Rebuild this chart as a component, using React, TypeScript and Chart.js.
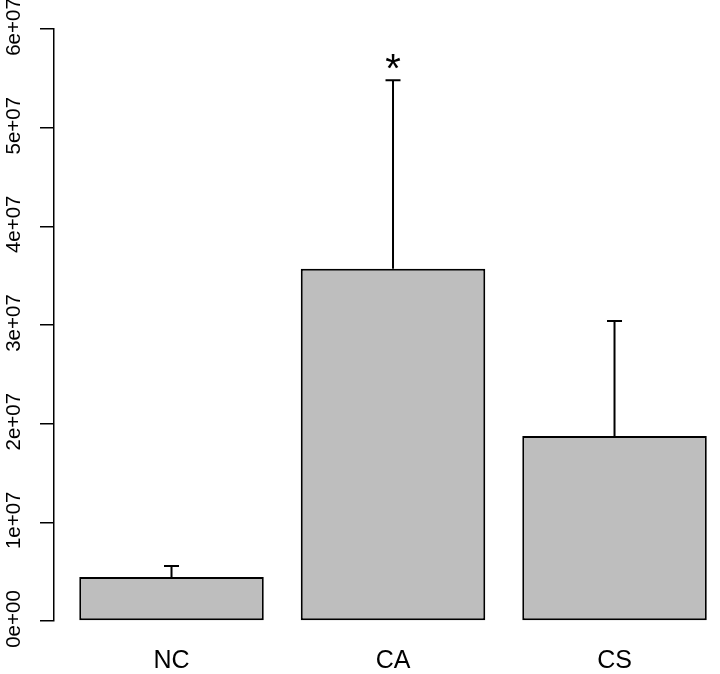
import React, { useEffect, useRef } from "react";
import { Chart, registerables } from "chart.js";

Chart.register(...registerables);

const categories = ["NC", "CA", "CS"];
const means = [4.46e6, 3.57e7, 1.876e7];
const upperErrors = [5.58e6, 5.48e7, 3.04e7];
const significance = ["", "*", ""];
const yTickValues = [0, 1e7, 2e7, 3e7, 4e7, 5e7, 6e7];
const yTickLabels = ["0e+00", "1e+07", "2e+07", "3e+07", "4e+07", "5e+07", "6e+07"];

const FONT = "'Liberation Sans', Arial, sans-serif";

const overlayPlugin = {
  id: "overlay",
  afterDatasetsDraw(chart: any) {
    const { ctx } = chart;
    const x = chart.scales.x;
    const y = chart.scales.y;
    ctx.save();
    ctx.strokeStyle = "#000";
    ctx.fillStyle = "#000";
    ctx.lineWidth = 2;
    categories.forEach((_, i) => {
      const px = x.getPixelForValue(i + 1);
      const top = y.getPixelForValue(means[i]);
      const up = y.getPixelForValue(upperErrors[i]);
      ctx.beginPath();
      ctx.moveTo(px, top);
      ctx.lineTo(px, up);
      ctx.moveTo(px - 7.5, up);
      ctx.lineTo(px + 7.5, up);
      ctx.stroke();
      if (significance[i]) {
        ctx.font = `40px ${FONT}`;
        ctx.textAlign = "center";
        ctx.textBaseline = "alphabetic";
        ctx.fillText(significance[i], px, up + 1.5);
      }
    });
    ctx.font = `20.5px ${FONT}`;
    ctx.textAlign = "center";
    ctx.textBaseline = "alphabetic";
    yTickValues.forEach((v, i) => {
      const py = y.getPixelForValue(v);
      ctx.save();
      ctx.translate(19.5, py - 2);
      ctx.rotate(-Math.PI / 2);
      ctx.fillText(yTickLabels[i], 0, 0);
      ctx.restore();
    });
    ctx.restore();
  },
};

export default function App() {
  const canvasRef = useRef<HTMLCanvasElement | null>(null);

  useEffect(() => {
    const canvas = canvasRef.current;
    if (!canvas) return;
    const chart = new Chart(canvas, {
      type: "bar",
      data: {
        datasets: [
          {
            data: means.map((m, i) => ({ x: i + 1, y: m })),
            backgroundColor: "#bebebe",
            borderColor: "#000",
            borderWidth: 2,
            borderSkipped: false,
            barPercentage: 1,
            categoryPercentage: 0.833,
          },
        ],
      },
      options: {
        responsive: false,
        animation: false,
        devicePixelRatio: 1,
        layout: { padding: { top: 29, left: 0, right: 0, bottom: 0 } },
        plugins: { legend: { display: false }, tooltip: { enabled: false } },
        scales: {
          x: {
            type: "linear",
            offset: false,
            min: 0.4695,
            max: 3.4762,
            grid: { display: false, drawTicks: false },
            border: { display: false },
            afterBuildTicks: (scale: any) => {
              scale.ticks = categories.map((_, i) => ({ value: i + 1 }));
            },
            afterFit: (scale: any) => {
              scale.height = 53;
            },
            ticks: {
              color: "#000",
              font: { family: FONT, size: 25 },
              padding: 25,
              maxRotation: 0,
              autoSkip: false,
              callback: (v: any) => categories[Math.round(Number(v)) - 1] ?? "",
            },
          },
          y: {
            type: "linear",
            min: 0,
            max: 6e7,
            afterBuildTicks: (scale: any) => {
              scale.ticks = yTickValues.map((v) => ({ value: v }));
            },
            afterFit: (scale: any) => {
              scale.width = 54;
            },
            grid: {
              display: true,
              drawOnChartArea: false,
              drawTicks: true,
              tickLength: 14,
              color: "#000",
              lineWidth: 1.5,
            },
            border: { display: true, color: "#000", width: 1.5 },
            ticks: { display: false },
          },
        },
      },
      plugins: [overlayPlugin],
    } as any);
    return () => chart.destroy();
  }, []);

  return (
    <div style={{ position: "fixed", left: 0, top: 0, width: 720, height: 674, background: "#fff" }}>
      <canvas ref={canvasRef} width={720} height={674} />
    </div>
  );
}
